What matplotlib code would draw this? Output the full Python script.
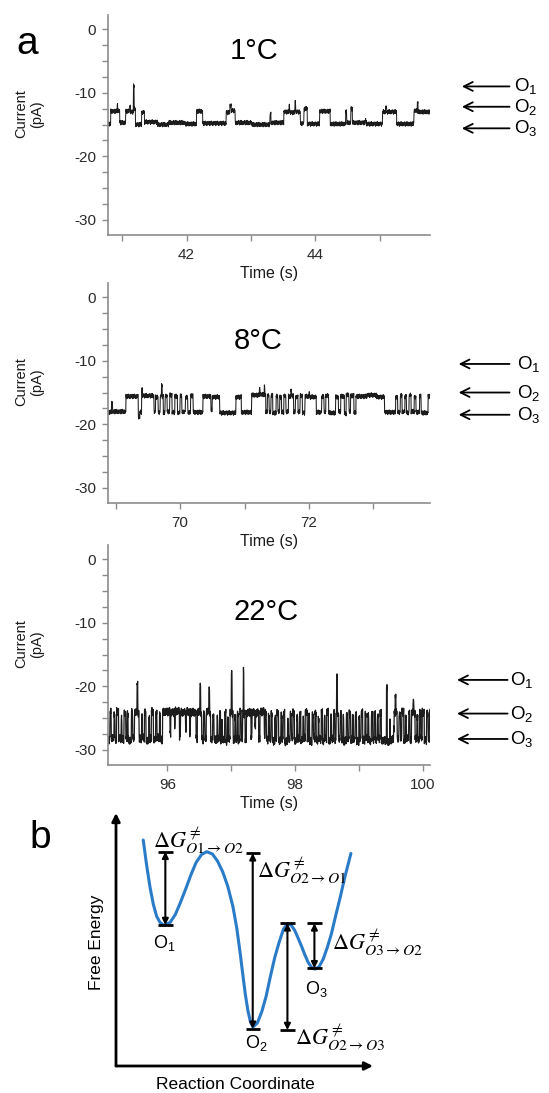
import numpy as np
import matplotlib
matplotlib.use('Agg')
import matplotlib.pyplot as plt
from matplotlib.ticker import MultipleLocator
import matplotlib.transforms as mtransforms

plt.rcParams['font.family'] = ['Liberation Sans', 'DejaVu Sans']
plt.rcParams['mathtext.fontset'] = 'custom'
plt.rcParams['mathtext.rm'] = 'Liberation Sans'
plt.rcParams['mathtext.it'] = 'Liberation Sans:italic'
plt.rcParams['axes.unicode_minus'] = False

# ---------------- panel a : single channel traces (time in s, current in pA) ----------------
# 1 C : level changes (edge times) and the current held from each edge to the next
t1_edges = [40.78, 40.82, 40.92, 40.93, 40.96, 41.055, 41.115, 41.13, 41.175, 41.185,
            41.205, 41.30, 41.345, 41.545, 41.725, 41.975, 42.155, 42.25, 42.615, 42.675,
            42.695, 42.755, 43.015, 43.295, 43.31, 43.51, 43.59, 43.602, 43.68, 43.692,
            43.765, 43.82, 43.875, 44.065, 44.23, 44.47, 44.485, 44.55, 44.575, 44.775,
            44.79, 45.04, 45.09, 45.105, 45.26, 45.53, 45.58, 45.595, 45.78]
i1_levels = [-14.9, -12.9, -11.9, -12.8, -14.7, -12.9, -12.2, -13.0, -8.9, -12.6,
             -15.0, -13.1, -14.6, -15.0, -14.7, -14.9, -12.9, -14.8, -13.1, -12.0,
             -12.8, -14.7, -15.0, -13.4, -14.7, -13.0, -12.0, -13.1, -11.4, -13.0,
             -14.8, -12.5, -14.9, -12.9, -14.9, -12.9, -14.7, -12.5, -14.7, -14.4,
             -14.9, -13.0, -12.2, -13.0, -14.9, -12.8, -11.7, -13.0]

# 8 C
t2_edges = [68.88, 68.935, 68.95, 69.159, 69.349, 69.376, 69.403, 69.415, 69.593, 69.62,
            69.658, 69.691, 69.71, 69.722, 69.74, 69.767, 69.799, 69.837, 69.875, 69.919,
            69.957, 70.0, 70.027, 70.081, 70.119, 70.163, 70.201, 70.353, 70.477, 70.499,
            70.613, 70.868, 70.95, 71.112, 71.23, 71.242, 71.305, 71.315, 71.329, 71.356,
            71.384, 71.411, 71.438, 71.492, 71.519, 71.546, 71.574, 71.611, 71.644, 71.682,
            71.72, 71.73, 71.763, 71.791, 71.829, 71.861, 71.899, 71.937, 72.0, 72.01,
            72.116, 72.197, 72.235, 72.263, 72.306, 72.415, 72.458, 72.496, 72.55, 72.577,
            72.621, 72.648, 72.697, 72.729, 72.9, 73.05, 73.174, 73.347, 73.38, 73.418,
            73.445, 73.489, 73.516, 73.554, 73.587, 73.635, 73.662, 73.717, 73.744, 73.852,
            73.88]
i2_levels = [-18.1, -16.6, -18.0, -15.6, -18.8, -18.1, -14.5, -15.5, -18.0, -15.7,
             -18.1, -15.5, -13.9, -15.6, -18.2, -15.5, -18.0, -15.4, -18.1, -15.6,
             -18.2, -15.5, -18.0, -15.7, -18.1, -15.5, -18.1, -15.6, -17.8, -15.7,
             -18.2, -15.7, -18.1, -15.4, -14.4, -15.3, -13.9, -15.4, -18.0, -15.5,
             -18.1, -15.4, -18.2, -15.6, -18.0, -15.7, -18.1, -15.5, -18.0, -15.6,
             -14.6, -15.5, -18.1, -15.7, -18.0, -15.5, -18.2, -15.6, -15.0, -15.7,
             -18.1, -15.6, -18.0, -15.5, -18.2, -15.7, -18.0, -15.6, -18.3, -15.4,
             -18.0, -15.5, -18.1, -15.6, -15.4, -15.7, -18.1, -15.7, -18.1, -15.5,
             -18.0, -15.6, -18.2, -15.4, -18.0, -15.7, -18.1, -15.5, -18.2, -15.6]

# 22 C : dwell list (ms) starting at t3_start
t3_start = 95.07
i3_levels = [-28.4, -24.1, -28.1, -24.6, -28.5, -24.0, -28.2, -25.1, -28.4, -24.2,
             -28.0, -24.4, -28.5, -24.1, -28.2, -24.0, -19.8, -24.2, -28.3, -24.8,
             -28.1, -24.1, -28.5, -25.2, -28.2, -24.0, -28.4, -24.3, -28.1, -24.5,
             -28.4, -24.1,
             -24.0, -27.4, -24.1, -26.2, -23.9, -27.8, -24.1, -27.1, -24.0, -27.6, -24.1,
             -28.2, -24.1, -19.8, -24.2, -28.4, -24.4, -28.1, -24.0, -20.5, -24.2, -28.3,
             -24.6, -28.2,
             -28.5, -24.9, -28.2, -24.4, -28.4, -25.4, -28.3, -24.2, -28.6, -25.0,
             -28.2, -24.1, -18.1, -24.2, -28.5, -24.8, -28.3, -24.5, -28.4, -24.1,
             -28.2, -24.0, -17.6, -24.3, -28.4, -24.2,
             -24.1, -27.9, -24.0, -26.4, -24.2, -28.2, -24.0, -27.6, -24.1,
             -28.4, -24.8, -28.2, -24.3, -28.6, -25.2, -28.1, -24.1, -28.5, -24.7,
             -28.2, -24.2, -28.7, -25.4, -28.3, -24.5, -28.1, -24.2, -28.6, -24.8,
             -28.3, -24.4, -28.5, -25.1, -28.2, -24.0, -28.4, -24.6, -28.7, -24.5,
             -28.1, -24.3, -28.5, -25.2, -28.3, -24.2, -28.6, -24.7, -28.2, -24.1,
             -28.5, -24.6, -28.2, -24.3, -28.4, -24.2, -18.3, -24.4, -28.3, -24.2,
             -28.4, -25.0, -28.6, -24.5, -28.2, -24.3, -28.5, -24.8, -28.3, -24.4,
             -28.7, -25.1, -28.2, -24.1,
             -28.5, -24.4, -28.2, -24.7, -28.6, -24.2, -28.3, -24.5, -28.4, -24.6,
             -28.2, -24.3,
             -28.5, -20.4, -28.7, -25.4, -28.4, -26.6,
             -24.2, -21.5, -24.1, -28.3, -24.4, -28.1, -24.0, -28.5, -24.9, -28.2,
             -24.3, -28.6, -24.1, -22.3, -24.2, -28.3, -24.8, -28.4, -24.2, -28.1,
             -24.1, -28.5, -24.3, -28.2, -24.1]
i3_dwell_ms = [30, 20, 45, 15, 25, 30, 40, 12, 35, 25,
               20, 18, 50, 20, 30, 40, 10, 20, 40, 15,
               30, 25, 45, 12, 28, 30, 35, 20, 40, 15,
               35, 25,
               90, 12, 60, 8, 70, 15, 80, 10, 55, 12, 88,
               20, 40, 10, 15, 30, 20, 25, 40, 10, 15, 35,
               20, 20,
               25, 12, 30, 15, 20, 10, 35, 18, 25, 12,
               30, 20, 10, 15, 30, 12, 25, 15, 28, 20,
               20, 10, 10, 18, 20, 15,
               60, 15, 45, 10, 50, 20, 65, 15, 20,
               30, 15, 25, 20, 40, 12, 22, 28, 35, 15,
               20, 25, 45, 10, 30, 18, 25, 22, 38, 15,
               28, 20, 32, 12, 26, 30, 20, 15, 42, 18,
               25, 22, 30, 12, 35, 20, 28, 15, 24, 26,
               35, 15, 30, 20, 20, 10, 10, 15, 30, 20,
               25, 12, 40, 18, 26, 22, 30, 15, 28, 20,
               36, 12, 24, 25,
               33, 18, 28, 15, 40, 20, 25, 18, 30, 15,
               30, 20,
               80, 10, 40, 10, 50, 10,
               15, 10, 20, 30, 25, 20, 30, 25, 15, 35,
               20, 25, 25, 10, 20, 30, 15, 28, 22, 20,
               30, 35, 25, 20, 10]

# recording noise riding on the levels (pA), one value per 4 ms sample
ripple = [0.0, 0.32, -0.18, 0.12, -0.38, 0.22, -0.08, 0.30, -0.28, 0.10, -0.14, 0.36,
          -0.24, 0.04, 0.20, -0.34, 0.16, -0.06, 0.26, -0.30, 0.08, -0.20, 0.14]

temps = ['1°C', '8°C', '22°C']
xlims = [(40.78, 45.78), (68.88, 73.88), (95.07, 100.11)]
xtick_labels = [[42, 44], [70, 72], [96, 98, 100]]
state_names = ['O$_1$', 'O$_2$', 'O$_3$']
state_levels = [[-9.0, -12.2, -15.6], [-10.5, -15.0, -18.5], [-19.0, -24.3, -28.3]]
noise_scale = [1.0, 1.0, 1.8]
trace_lw = [0.7, 0.75, 0.9]

# ---------------- panel b : free-energy landscape (arbitrary units) ----------------
coord = [1.06, 1.19, 1.32, 1.45, 1.58, 1.71, 1.82, 1.91, 2.11, 2.31, 2.51, 2.72, 2.92,
         3.12, 3.33, 3.53, 3.75, 3.95, 4.15, 4.35, 4.55, 4.70, 4.82, 4.93, 5.03, 5.13,
         5.23, 5.33, 5.50, 5.67, 5.84, 6.01, 6.18, 6.35, 6.52, 6.69, 6.82, 6.95, 7.08,
         7.22, 7.35, 7.48, 7.61, 7.74, 7.90, 8.06, 8.22, 8.38, 8.55, 8.72, 8.90, 9.14]
energy = [8.93, 7.95, 7.09, 6.40, 5.92, 5.68, 5.59, 5.57, 5.68, 5.99, 6.47, 7.02, 7.57,
          8.05, 8.36, 8.47, 8.38, 8.10, 7.68, 7.10, 6.30, 5.45, 4.55, 3.65, 2.85, 2.20,
          1.75, 1.54, 1.70, 2.14, 2.75, 3.55, 4.30, 4.90, 5.42, 5.63, 5.56, 5.37, 5.07,
          4.73, 4.39, 4.09, 3.90, 3.83, 3.92, 4.22, 4.68, 5.22, 5.95, 6.65, 7.45, 8.40]
barrier_x = [1.92, 5.32, 6.67, 7.72]
barrier_lo = [5.57, 1.47, 1.42, 3.86]
barrier_hi = [8.47, 8.41, 5.64, 5.64]
barrier_names = [r'$\Delta G^{\neq}_{O1\rightarrow O2}$', r'$\Delta G^{\neq}_{O2\rightarrow O1}$',
                 r'$\Delta G^{\neq}_{O2\rightarrow O3}$', r'$\Delta G^{\neq}_{O3\rightarrow O2}$']
barrier_label_xy = [(1.45, 8.62), (5.47, 7.43), (6.96, 0.83), (8.39, 4.58)]
well_names = ['O$_1$', 'O$_2$', 'O$_3$']
well_label_xy = [(1.88, 4.85), (5.45, 0.90), (7.80, 3.04)]


def make_trace(edges, levels, lims, scale):
    t = np.arange(lims[0], lims[1], 0.004)
    idx = np.clip(np.searchsorted(edges, t, side='right') - 1, 0, len(levels) - 1)
    noise = np.resize(np.array(ripple), t.size) * scale
    return t, np.asarray(levels)[idx] + noise


t3_edges = t3_start + np.concatenate([[0], np.cumsum(i3_dwell_ms)]) / 1000.0
traces = [(t1_edges, i1_levels), (t2_edges, i2_levels), (t3_edges, i3_levels)]

W, H = 549, 1093
fig = plt.figure(figsize=(W / 100, H / 100), dpi=100)


def px_axes(left, top, width, height):
    ax = fig.add_axes([left / W, 1 - (top + height) / H, width / W, height / H])
    ax.patch.set_visible(False)
    return ax


grey = '#8c8c8c'
tops = [15, 283, 545]
title_xy = [(0.453, 0.835), (0.466, 0.735), (0.491, 0.695)]
arrow_head = [1.099, 1.089, 1.084]
arrow_tail = [1.247, 1.247, 1.241]
label_x = [1.262, 1.270, 1.247]

for k in range(3):
    ax = px_axes(108, tops[k], 322, 220)
    t, cur = make_trace(traces[k][0], traces[k][1], xlims[k], noise_scale[k])
    ax.plot(t, cur, color='#1c1c1c', lw=trace_lw[k])
    ax.set_xlim(*xlims[k])
    ax.set_ylim(-32.4, 2.25)
    for s in ['top', 'right']:
        ax.spines[s].set_visible(False)
    for s in ['left', 'bottom']:
        ax.spines[s].set_color(grey)
        ax.spines[s].set_linewidth(1.2)
    ax.yaxis.set_major_locator(MultipleLocator(10))
    ax.yaxis.set_minor_locator(MultipleLocator(2.5))
    ticks = np.arange(np.ceil(xlims[k][0]), np.floor(xlims[k][1]) + 1)
    ax.set_xticks(ticks, [str(int(v)) if int(v) in xtick_labels[k] else '' for v in ticks])
    ax.tick_params(which='both', direction='out', length=4.5, width=1, color=grey,
                   labelsize=11, labelcolor='#2a2a2a', pad=4)
    ax.tick_params(axis='x', pad=5)
    ax.set_xlabel('Time (s)', fontsize=11.5, labelpad=3, color='#1a1a1a')
    ax.text(-0.245, 0.55, 'Current\n(pA)', transform=ax.transAxes, rotation=90,
            ha='center', va='center', fontsize=10.5, linespacing=1.15, color='#1a1a1a')
    ax.text(title_xy[k][0], title_xy[k][1], temps[k], transform=ax.transAxes,
            ha='center', va='center', fontsize=21)
    trans = mtransforms.blended_transform_factory(ax.transAxes, ax.transData)
    for name, lev in zip(state_names, state_levels[k]):
        ax.annotate('', xy=(arrow_head[k], lev), xycoords=trans,
                    xytext=(arrow_tail[k], lev), textcoords=trans,
                    arrowprops=dict(arrowstyle='->', lw=1.3, color='k', shrinkA=0,
                                    shrinkB=0, mutation_scale=16),
                    annotation_clip=False)
        ax.text(label_x[k], lev, name, transform=trans, ha='left', va='center',
                fontsize=13.5)

fig.text(27 / W, 1 - 44 / H, 'a', fontsize=28, ha='center', va='center')
fig.text(40 / W, 1 - 838 / H, 'b', fontsize=28, ha='center', va='center')

# ---------------- panel b ----------------
axb = px_axes(116, 813, 257, 253)
axb.set_xlim(0, 10)
axb.set_ylim(0, 10)
axb.axis('off')
for end in [(0, 10), (10, 0)]:
    axb.annotate('', xy=end, xytext=(0, 0),
                 arrowprops=dict(arrowstyle='-|>', lw=2, color='k', shrinkA=0,
                                 shrinkB=0, mutation_scale=12),
                 annotation_clip=False)
axb.plot(coord, energy, color='#2a7cc9', lw=2.2, solid_capstyle='round')
for x, lo, hi in zip(barrier_x, barrier_lo, barrier_hi):
    axb.hlines([lo, hi], x - 0.28, x + 0.28, color='k', lw=2)
    axb.annotate('', xy=(x, hi), xytext=(x, lo),
                 arrowprops=dict(arrowstyle='<|-|>', lw=1.5, color='k', shrinkA=0,
                                 shrinkB=0, mutation_scale=9))
for name, (x, y) in zip(barrier_names, barrier_label_xy):
    axb.text(x, y, name, ha='left', va='baseline', fontsize=16, math_fontfamily='stix')
for name, (x, y) in zip(well_names, well_label_xy):
    axb.text(x, y, name, ha='center', va='center', fontsize=13)
axb.text(-0.074, 0.49, 'Free Energy', transform=axb.transAxes, rotation=90,
         ha='center', va='center', fontsize=12.5)
axb.text(0.465, -0.075, 'Reaction Coordinate', transform=axb.transAxes,
         ha='center', va='center', fontsize=12.5)

fig.savefig('out.png', dpi=100)
